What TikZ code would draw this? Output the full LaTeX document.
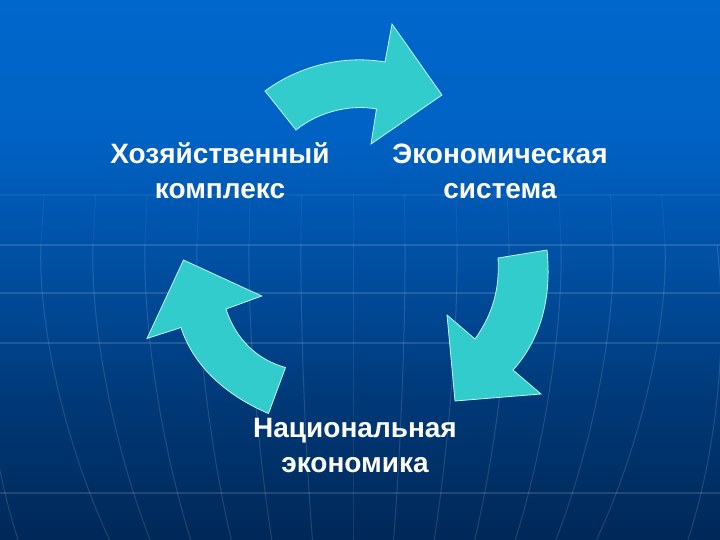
\documentclass[tikz,border=0pt]{standalone}
\usepackage{fontspec}
\setmainfont{Liberation Sans}
\definecolor{bgA}{RGB}{0,40,88}
\definecolor{bgB}{RGB}{0,56,118}
\definecolor{bgC}{RGB}{0,78,160}
\definecolor{bgD}{RGB}{0,98,196}
\definecolor{bgE}{RGB}{0,103,204}
\definecolor{arrowfill}{RGB}{51,204,204}
\definecolor{arrowedge}{RGB}{190,245,245}
\pgfdeclareverticalshading{bgshade}{100bp}{color(0bp)=(bgA); color(25bp)=(bgA); color(37.5bp)=(bgB); color(50bp)=(bgC); color(62.5bp)=(bgD); color(75bp)=(bgE); color(100bp)=(bgE)}
\tikzset{
  gridline/.style={draw=white, opacity=0.13, line width=1pt},
  hline/.style={draw=white, opacity=0.13, line width=1.5pt},
  cyclearrow/.style={fill=arrowfill, draw=arrowedge, line width=0.8pt, line join=miter},
  label/.style={text=white, font=\bfseries\fontsize{28}{35}\selectfont, align=center, inner sep=0pt, anchor=base}
}
\begin{document}
\begin{tikzpicture}[x=1pt, y=-1pt]
\useasboundingbox (0,0) rectangle (720,540);
\shade[shading=bgshade] (0,0) rectangle (720,540);
% parallels
\draw[hline, opacity=0.06] (0,195) -- (720,195);
\foreach \yy in {245,293,343,493}
  \draw[hline] (0,\yy) -- (720,\yy);
% meridians
\begin{scope}
\clip (0,0) rectangle (720,540);
\foreach \d in {-312,-260,-208,-156,-104,-52,0,52,104,156,208,260,312}{
  \draw[gridline, opacity=0.05] ({353+0.99*\d},195) -- ({353+1.0*\d},245);
  \draw[gridline] ({353+1.0*\d},245) .. controls ({353+1.01*\d},320) and ({353+0.93*\d},440) .. ({353+0.78*\d},540);
}
\foreach \d in {-364,364}
  \draw[gridline] ({353+1.0*\d},245) .. controls ({353+1.03*\d},340) and ({353+1.0*\d},450) .. ({353+0.92*\d},540);
\end{scope}
% arrows
\path[cyclearrow] (265,91) .. controls (300,65) and (345,55) .. (385,62)
  -- (392,24) -- (442,95) -- (371,144) -- (376.5,109)
  .. controls (350,104) and (318,112) .. (296,130) -- cycle;
\path[cyclearrow] (498,258) -- (547,250) .. controls (552,300) and (540,340) .. (513,370)
  -- (541,394) -- (455,401) -- (447,315) -- (475,339)
  .. controls (492,315) and (500,290) .. (498,258) -- cycle;
\path[cyclearrow] (183.5,260) -- (261.7,296) -- (226,309)
  .. controls (236,340) and (258,360) .. (285.5,367.5)
  -- (268.5,413.5) .. controls (225,395) and (193,365) .. (181,327.5)
  -- (147,338.5) -- cycle;
% labels
\node[label] (hk) at (220,199) {Хозяйственный\\комплекс};
\node[label] (es) at (500,199) {Экономическая\\система};
\node[label] (ne) at (355,472) {Национальная\\экономика};
\end{tikzpicture}
\end{document}
